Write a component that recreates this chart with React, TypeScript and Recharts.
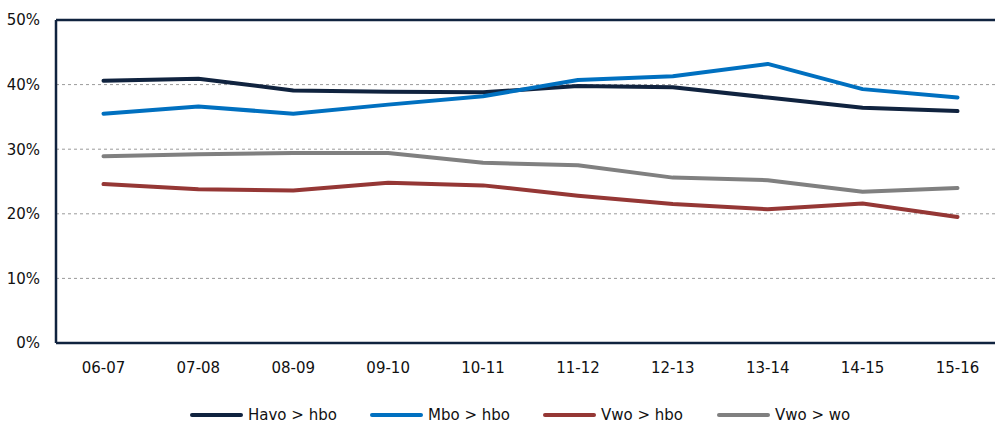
import React from "react";
import { LineChart, Line, XAxis, YAxis, CartesianGrid, ReferenceLine } from "recharts";

const categories = ["06-07", "07-08", "08-09", "09-10", "10-11", "11-12", "12-13", "13-14", "14-15", "15-16"];
const havoHbo = [40.6, 40.9, 39.1, 38.9, 38.8, 39.8, 39.6, 38.0, 36.4, 35.9];
const mboHbo = [35.5, 36.6, 35.5, 36.9, 38.2, 40.7, 41.3, 43.2, 39.3, 38.0];
const vwoHbo = [24.6, 23.8, 23.6, 24.8, 24.4, 22.8, 21.5, 20.7, 21.6, 19.5];
const vwoWo = [28.9, 29.2, 29.4, 29.4, 27.9, 27.5, 25.6, 25.2, 23.4, 24.0];
const yTicks = [0, 10, 20, 30, 40, 50];

const series = [
  { key: "havo", name: "Havo > hbo", values: havoHbo, color: "#10233f" },
  { key: "mbo", name: "Mbo > hbo", values: mboHbo, color: "#0070c0" },
  { key: "vwohbo", name: "Vwo > hbo", values: vwoHbo, color: "#953735" },
  { key: "vwowo", name: "Vwo > wo", values: vwoWo, color: "#808080" },
];

const data = categories.map((c, i) => {
  const row: Record<string, string | number> = { cat: c };
  series.forEach((s) => {
    row[s.key] = s.values[i];
  });
  return row;
});

const FONT = "'DejaVu Sans', sans-serif";
const NAVY = "#10233f";
const legendWidths = [180, 173, 174];

export default function App() {
  return (
    <div style={{ position: "fixed", left: 0, top: 0, width: 995, height: 423, overflow: "hidden", background: "#fff", fontFamily: FONT }}>
      <LineChart width={1010} height={423} data={data} margin={{ top: 20, right: 5, left: 0, bottom: 40 }}>
        <CartesianGrid vertical={false} stroke="#9a9a9a" strokeDasharray="3 3" />
        <XAxis
          dataKey="cat"
          height={40}
          padding={{ left: 47.5, right: 47.5 }}
          axisLine={{ stroke: NAVY, strokeWidth: 2.5 }}
          tickLine={false}
          tickSize={0}
          tickMargin={19}
          interval={0}
          tick={{ fill: "#111", fontSize: 15, fontFamily: FONT }}
        />
        <YAxis
          width={56}
          domain={[0, 50]}
          ticks={yTicks}
          tickFormatter={(v: number) => `${v}%`}
          axisLine={{ stroke: NAVY, strokeWidth: 2.5 }}
          tickLine={false}
          tickSize={0}
          tickMargin={16}
          tick={{ fill: "#111", fontSize: 15, fontFamily: FONT }}
        />
        <ReferenceLine y={50} stroke={NAVY} strokeWidth={2.5} />
        {series.map((s) => (
          <Line
            key={s.key}
            dataKey={s.key}
            name={s.name}
            stroke={s.color}
            strokeWidth={4}
            strokeLinecap="round"
            strokeLinejoin="round"
            dot={false}
            activeDot={false}
            isAnimationActive={false}
          />
        ))}
      </LineChart>
      <div style={{ position: "absolute", left: 190, top: 405, display: "flex", alignItems: "center", height: 20 }}>
        {series.map((s, i) => (
          <div key={s.key} style={{ display: "flex", alignItems: "center", width: legendWidths[i] }}>
            <div style={{ width: 53, height: 4, borderRadius: 2, background: s.color, marginRight: 5, flexShrink: 0 }} />
            <span style={{ fontSize: 15, color: "#111", fontFamily: FONT, whiteSpace: "nowrap" }}>{s.name}</span>
          </div>
        ))}
      </div>
    </div>
  );
}
